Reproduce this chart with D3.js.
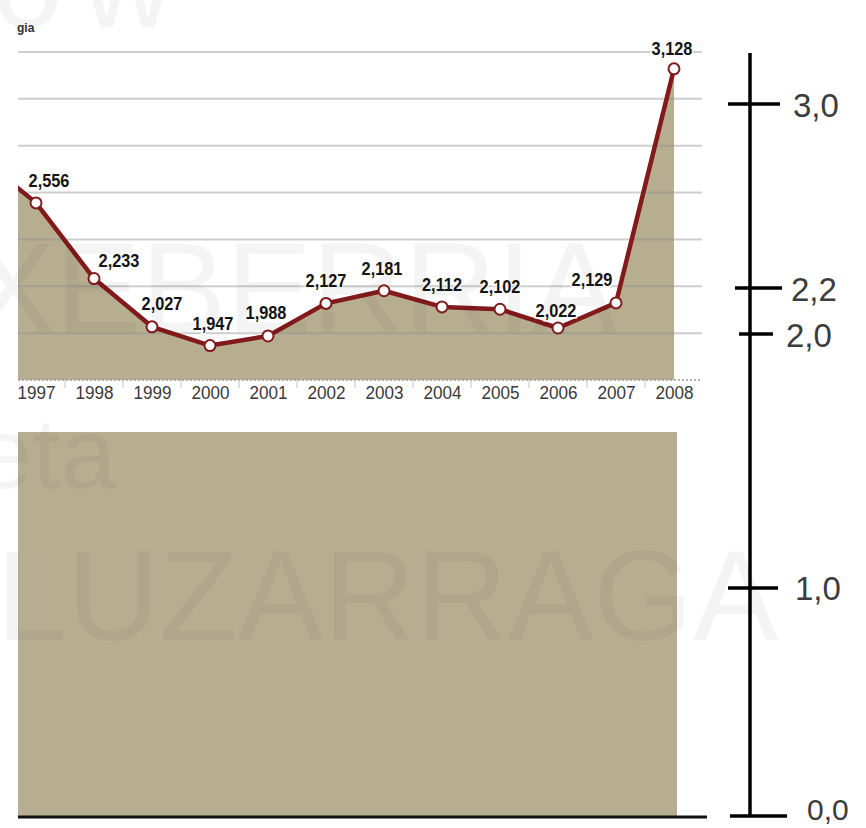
<!DOCTYPE html>
<html>
<head>
<meta charset="utf-8">
<script src="https://cdn.jsdelivr.net/npm/d3@7"></script>
<style>
  body { margin: 0; background: #fff; }
  svg { display: block; }
</style>
</head>
<body>
<div id="chart"></div>
<script>
// data
let years = [1997, 1998, 1999, 2000, 2001, 2002, 2003, 2004, 2005, 2006, 2007, 2008];
let values = [2.556, 2.233, 2.027, 1.947, 1.988, 2.127, 2.181, 2.112, 2.102, 2.022, 2.129, 3.128];
// the line comes in from the left edge: rough estimate of the 1996 value (off the chart)
let leadYear = 1996;
let leadValue = 2.76;
let gridValues = [2.0, 2.2, 2.4, 2.6, 2.8, 3.0, 3.2];
let baseValue = 1.8;
let scaleTicks = [0, 1, 2, 2.2, 3];
let scaleLabels = ['0,0', '1,0', '2,0', '2,2', '3,0'];
let hiddenPart = [0, 1.8];
let cornerText = 'gia';
let watermark = ['ow', 'XEBERRIA', 'eta', 'LUZARRAGA'];

// label nudges (px) so the numbers sit where they sit in the original
let labelNudge = [[13, -16], [25, -12], [10, -17], [3, -16], [-2, -17], [0, -16],
                  [-2, -16], [0, -16], [0, -16], [-2, -11], [-24, -17], [-2, -14]];

let width = 866, height = 828;
let left = 18, plotRight = 674;
let tan = '#b7ae92', red = '#821a1c';
let sans = "'Liberation Sans', Arial, sans-serif";

let svg = d3.select('#chart').append('svg').attr('width', width).attr('height', height);

let x = d3.scaleLinear().domain([1997, 2008]).range([36, plotRight]);
let y = d3.scaleLinear().domain([1.8, 3.2]).range([380, 52]);
let yLow = d3.scaleLinear().domain(hiddenPart).range([817, 432]);
let yRight = d3.scaleLinear().domain(scaleTicks).range([816, 588, 334, 288, 104]);

let series = [{ year: leadYear, value: leadValue }].concat(
    years.map(function (d, i) { return { year: d, value: values[i] }; }));

svg.append('clipPath').attr('id', 'plotclip')
    .append('rect')
    .attr('x', left).attr('y', 0)
    .attr('width', plotRight - left + 1).attr('height', y(baseValue) + 1);

// area
let area = d3.area()
    .x(function (d) { return x(d.year); })
    .y0(y(baseValue))
    .y1(function (d) { return y(d.value); });
svg.append('path')
    .datum(series)
    .attr('clip-path', 'url(#plotclip)')
    .attr('d', area)
    .attr('fill', tan);

// grid lines
svg.append('g')
    .selectAll('line')
    .data(gridValues)
    .enter()
    .append('line')
    .attr('x1', left).attr('x2', 702)
    .attr('y1', function (d) { return y(d); })
    .attr('y2', function (d) { return y(d); })
    .attr('stroke', '#8a8a8a')
    .attr('stroke-opacity', 0.42)
    .attr('stroke-width', 2);

// base line of the top chart + years
svg.append('line')
    .attr('x1', left).attr('x2', 702)
    .attr('y1', y(baseValue)).attr('y2', y(baseValue))
    .attr('stroke', '#9a9a9a')
    .attr('stroke-width', 1.5)
    .attr('stroke-dasharray', '2,2');

svg.append('g')
    .selectAll('line')
    .data(years.slice(0, -1))
    .enter()
    .append('line')
    .attr('x1', function (d) { return x(d + 0.5); })
    .attr('x2', function (d) { return x(d + 0.5); })
    .attr('y1', y(baseValue)).attr('y2', y(baseValue) + 8)
    .attr('stroke', '#c4c4c4')
    .attr('stroke-width', 1);

let xAxis = d3.axisBottom(x)
    .tickValues(years)
    .tickFormat(d3.format('d'))
    .tickSize(0)
    .tickPadding(6);
let xg = svg.append('g')
    .attr('transform', 'translate(0,' + y(baseValue) + ')')
    .call(xAxis);
xg.select('.domain').remove();
xg.selectAll('text')
    .attr('font-family', sans)
    .attr('font-size', 19)
    .attr('transform', 'scale(0.9,1)')
    .attr('fill', '#3a3a3a');

// line and markers
let line = d3.line()
    .x(function (d) { return x(d.year); })
    .y(function (d) { return y(d.value); });
svg.append('path')
    .datum(series)
    .attr('clip-path', 'url(#plotclip)')
    .attr('d', line)
    .attr('fill', 'none')
    .attr('stroke', red)
    .attr('stroke-width', 4.5)
    .attr('stroke-linejoin', 'round');

svg.append('g')
    .selectAll('circle')
    .data(series.slice(1))
    .enter()
    .append('circle')
    .attr('cx', function (d) { return x(d.year); })
    .attr('cy', function (d) { return y(d.value); })
    .attr('r', 5.5)
    .attr('fill', '#fff')
    .attr('stroke', red)
    .attr('stroke-width', 2);

svg.append('g')
    .selectAll('text')
    .data(series.slice(1))
    .enter()
    .append('text')
    .attr('transform', function (d, i) {
        return 'translate(' + (x(d.year) + labelNudge[i][0]) + ',' +
            (y(d.value) + labelNudge[i][1]) + ') scale(0.86,1)';
    })
    .attr('text-anchor', 'middle')
    .attr('font-family', sans)
    .attr('font-weight', 'bold')
    .attr('font-size', 19)
    .attr('fill', '#141414')
    .attr('stroke', '#fff')
    .attr('stroke-width', 3)
    .attr('paint-order', 'stroke')
    .text(function (d) { return d3.format(',.3f')(d.value).replace('.', ','); });

// the part of the scale that the top chart leaves out
svg.append('rect')
    .attr('x', left)
    .attr('y', yLow(hiddenPart[1]))
    .attr('width', 677 - left)
    .attr('height', yLow(hiddenPart[0]) - yLow(hiddenPart[1]))
    .attr('fill', tan);

svg.append('line')
    .attr('x1', left).attr('x2', 707)
    .attr('y1', yLow(0)).attr('y2', yLow(0))
    .attr('stroke', '#111')
    .attr('stroke-width', 3);

// right hand scale
let axisX = 750;
let tickSpan = [[-20, 37], [-22, 28], [-11, 23], [-15, 32], [-22, 30]];
let labelX = [807, 795, 786, 791, 793];
let labelDy = [4, 12, 13, 13, 13];

svg.append('line')
    .attr('x1', axisX).attr('x2', axisX)
    .attr('y1', 53).attr('y2', yRight(0))
    .attr('stroke', '#000')
    .attr('stroke-width', 3.5);

let rt = svg.append('g')
    .selectAll('g')
    .data(scaleTicks)
    .enter()
    .append('g');
rt.append('line')
    .attr('x1', function (d, i) { return axisX + tickSpan[i][0]; })
    .attr('x2', function (d, i) { return axisX + tickSpan[i][1]; })
    .attr('y1', function (d) { return yRight(d); })
    .attr('y2', function (d) { return yRight(d); })
    .attr('stroke', '#000')
    .attr('stroke-width', 3.5);
rt.append('text')
    .attr('x', function (d, i) { return labelX[i]; })
    .attr('y', function (d, i) { return yRight(d) + labelDy[i]; })
    .attr('font-family', sans)
    .attr('font-size', function (d, i) { return i === 0 ? 30 : 33; })
    .attr('fill', '#3c3c3c')
    .text(function (d, i) { return scaleLabels[i]; });

// little text in the corner
svg.append('text')
    .attr('x', 17).attr('y', 32)
    .attr('font-family', sans)
    .attr('font-weight', 'bold')
    .attr('font-size', 12)
    .attr('fill', '#333')
    .text(cornerText);

// faint watermark
let wm = svg.append('g')
    .attr('font-family', sans)
    .attr('fill', '#000')
    .attr('fill-opacity', 0.045)
    .attr('pointer-events', 'none');
wm.append('text').attr('x', -8).attr('y', 27).attr('font-size', 128)
    .attr('letter-spacing', 18).text(watermark[0]);
wm.append('text').attr('x', -30).attr('y', 332).attr('font-size', 128).text(watermark[1]);
wm.append('text').attr('x', -23).attr('y', 488).attr('font-size', 100).text(watermark[2]);
wm.append('text').attr('x', -4).attr('y', 640).attr('font-size', 128).text(watermark[3]);
</script>
</body>
</html>
